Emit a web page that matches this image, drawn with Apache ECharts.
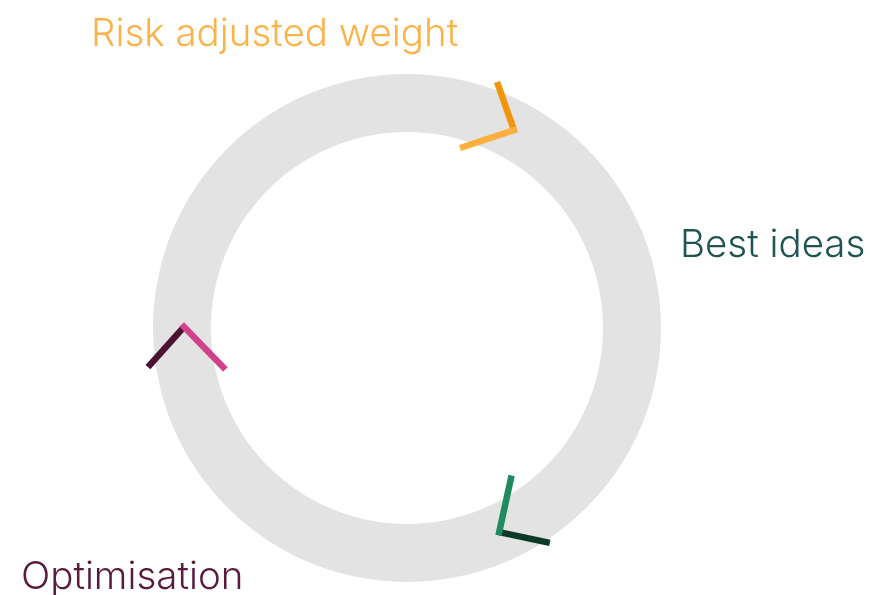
<!DOCTYPE html>
<html>
<head>
<meta charset="utf-8">
<script src="https://cdn.jsdelivr.net/npm/echarts@6/dist/echarts.min.js"></script>
<style>
  html, body { margin: 0; padding: 0; background: #fff; }
  #main { width: 870px; height: 595px; }
</style>
</head>
<body>
<div id="main"></div>
<script>
// step labels round the cycle
const stepLabels = ['Risk adjusted weight', 'Best ideas', 'Optimisation'];
const labelColors = ['#fbb246', '#1f5452', '#5a1a3e'];

// chevrons as [radius, angle] points, angle counter-clockwise from east
const apexPoints = [[225, 61.6], [223, 179.7], [224, 294.3]];
const outerEnds  = [[262, 69.9], [262, 188.6], [258, 303.6]];
const innerEnds  = [[189.5, 72.8], [188, 192.0], [183, 304.6]];
const darkColors  = ['#f0960a', '#4b1232', '#0b3b26'];
const lightColors = ['#fdb03f', '#d1428c', '#1e8c60'];

var myChart = echarts.init(document.getElementById('main'));

var cx = 407, cy = 328;
var series = [{
    type: 'pie',
    center: [cx, cy],
    radius: [196, 254],
    silent: true,
    z: 1,
    label: { show: false },
    labelLine: { show: false },
    itemStyle: { color: '#e3e3e3' },
    data: [{ value: 1 }]
}];

for (let i = 0; i < apexPoints.length; i++) {
    series.push({
        type: 'line',
        coordinateSystem: 'polar',
        symbol: 'none',
        silent: true,
        clip: false,
        z: 3,
        lineStyle: { color: darkColors[i], width: 6.5, cap: 'butt' },
        data: [outerEnds[i], apexPoints[i]]
    });
    series.push({
        type: 'line',
        coordinateSystem: 'polar',
        symbol: 'none',
        silent: true,
        clip: false,
        z: 4,
        lineStyle: { color: lightColors[i], width: 6.5, cap: 'square' },
        data: [innerEnds[i], apexPoints[i]]
    });
}

// top-left of each label
var labelPos = [[91, 15], [680, 226], [21, 558]];
var option = {
    animation: false,
    polar: { center: [cx, cy], radius: 270 },
    angleAxis: { type: 'value', min: 0, max: 360, startAngle: 0, clockwise: false, show: false },
    radiusAxis: { type: 'value', min: 0, max: 270, show: false },
    graphic: stepLabels.map(function (t, i) {
        return {
            type: 'text',
            x: labelPos[i][0],
            y: labelPos[i][1],
            style: {
                text: t,
                fill: labelColors[i],
                font: '300 38.5px Inter',
                verticalAlign: 'top'
            }
        };
    }),
    series: series
};
myChart.setOption(option);
</script>
</body>
</html>
